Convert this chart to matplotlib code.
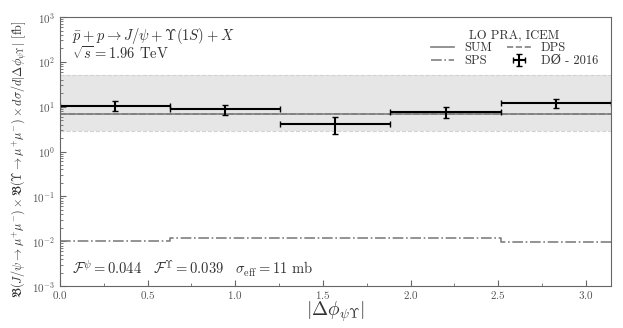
import numpy as np
import matplotlib
matplotlib.use('Agg')
import matplotlib.pyplot as plt

plt.rcParams['font.family'] = ['cmr10', 'DejaVu Serif']
plt.rcParams['mathtext.fontset'] = 'cm'
plt.rcParams['axes.formatter.use_mathtext'] = True

# bin edges in |dphi|
edges = np.linspace(0, np.pi, 6)
centers = 0.5 * (edges[1:] + edges[:-1])
halfw = 0.5 * (edges[1:] - edges[:-1])

# D0 - 2016 data
d0_val = [10.3, 8.7, 4.06, 7.6, 11.9]
d0_up = [13.3, 10.7, 6.0, 10.0, 15.2]
d0_lo = [7.9, 6.7, 2.44, 5.5, 9.3]

# theory curves
sum_val = [6.9, 6.9, 6.9, 6.9, 6.9]
dps_val = [6.88, 6.88, 6.88, 6.88, 6.88]
dps_lo = [2.8, 2.8, 2.8, 2.8, 2.8]
dps_hi = [52, 52, 52, 52, 52]
sps_val = [0.0103, 0.0116, 0.0117, 0.0115, 0.0098]

grey = '#808080'

fig = plt.figure(figsize=(6.23, 3.28), dpi=100)
ax = fig.add_axes([0.0963, 0.128, 0.884, 0.820])

stp = lambda v: np.append(v, v[-1])
ax.fill_between(edges, stp(dps_lo), stp(dps_hi), step='post', color='#e6e6e6', lw=0)
ax.step(edges, stp(dps_lo), where='post', color='#d2d2d2', ls='--', lw=0.8)
ax.step(edges, stp(dps_hi), where='post', color='#d2d2d2', ls='--', lw=0.8)
ax.step(edges, stp(dps_val), where='post', color=grey, ls='--', lw=1.2, label='DPS')
ax.step(edges, stp(sum_val), where='post', color=grey, ls='-', lw=1.2, label='SUM')
ax.step(edges, stp(sps_val), where='post', color=grey, ls='-.', lw=1.2, label='SPS')

yerr = [np.array(d0_val) - np.array(d0_lo), np.array(d0_up) - np.array(d0_val)]
ax.errorbar(centers, d0_val, xerr=halfw, yerr=yerr, fmt='none', ecolor='black',
            elinewidth=1.5, capsize=2.5, capthick=1.0, label=u'D\u00d8 - 2016')

ax.set_yscale('log')
ax.set_xlim(0, np.pi)
ax.set_ylim(1e-3, 1e3)

for s in ax.spines.values():
    s.set_color('#666666')
ax.tick_params(which='both', direction='in', colors='#666666', labelcolor='#555555',
               labelsize=8)
ax.tick_params(which='major', length=4)
ax.tick_params(which='minor', length=2)
ax.tick_params(axis='x', pad=2)
ax.xaxis.set_minor_locator(matplotlib.ticker.MultipleLocator(0.25))

ax.set_xlabel(r'$|\Delta\phi_{\psi\Upsilon}|$', fontsize=14, color='#333333', labelpad=-1)
ax.set_ylabel(r'$\mathfrak{B}(J/\psi\to\mu^{+}\mu^{-})\times\mathfrak{B}(\Upsilon\to\mu^{+}\mu^{-})\times d\sigma/d|\Delta\phi_{\psi\Upsilon}|$ [fb]',
              fontsize=8.8, color='#333333')
ax.yaxis.set_label_coords(-0.058, 0.47)

ax.text(0.022, 0.93, r'$\bar{p}+p\to J/\psi+\Upsilon(1S)+X$', transform=ax.transAxes,
        fontsize=10.5, color='#333333', va='center')
ax.text(0.022, 0.865, r'$\sqrt{s}=1.96$ TeV', transform=ax.transAxes,
        fontsize=10.5, color='#333333', va='center')
ax.text(0.022, 0.065, r'$\mathcal{F}^{\psi}=0.044\quad\mathcal{F}^{\Upsilon}=0.039\quad\sigma_{\rm eff}=11$ mb',
        transform=ax.transAxes, fontsize=10.5, color='#333333', va='center')

h, l = ax.get_legend_handles_labels()
order = [1, 2, 0, 3]
leg = ax.legend([h[i] for i in order], [l[i] for i in order], ncol=2, loc='upper right',
                bbox_to_anchor=(1.0, 1.0), frameon=False, fontsize=9,
                title='LO PRA, ICEM', title_fontsize=9, handlelength=1.9,
                handletextpad=0.8, columnspacing=1.2, labelspacing=0.05,
                borderaxespad=0.6)
for t in leg.get_texts():
    t.set_color('#333333')
leg.get_title().set_color('#333333')

fig.savefig('out.png', dpi=100)
